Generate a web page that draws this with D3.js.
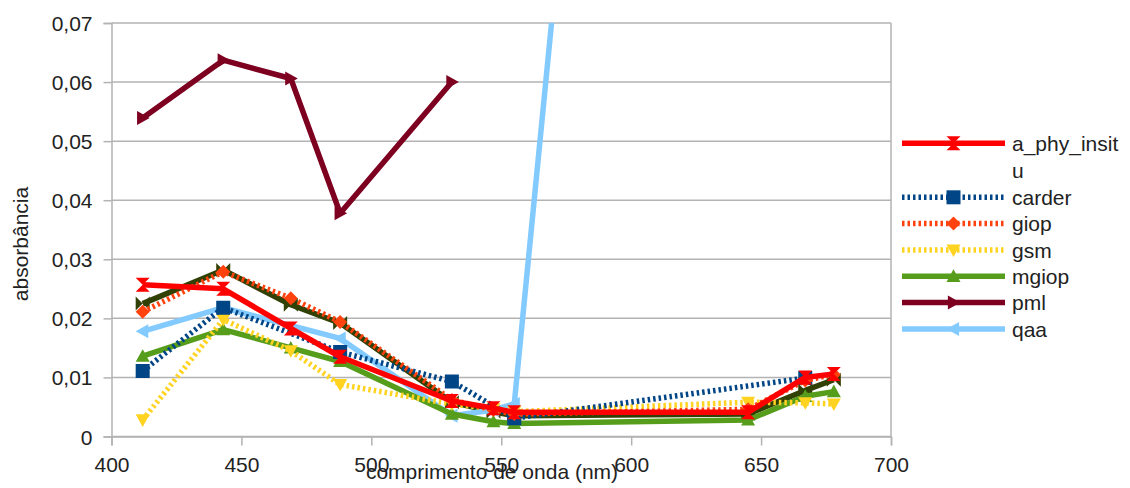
<!DOCTYPE html>
<html><head><meta charset="utf-8">
<script src="https://cdn.jsdelivr.net/npm/d3@7"></script>
<style>
html,body{margin:0;padding:0;background:#fff;}
text{font-family:"Liberation Sans",Arial,sans-serif;fill:#222;}
</style></head>
<body><svg id="c" width="1130" height="488"></svg>
<script>
const wavelengths = [412, 443, 469, 488, 531, 547, 555, 645, 667, 678];
const a_phy_insitu = [0.0257, 0.0250, 0.0183, 0.0135, 0.0060, 0.0048, 0.0041, 0.0041, 0.0100, 0.0106];
const carder = [0.0111, 0.0218, null, 0.0143, 0.0093, null, 0.0031, null, 0.0099, null];
const giop = [0.0211, 0.0279, 0.0234, 0.0194, 0.0062, 0.0045, 0.0038, 0.0046, 0.0095, 0.0105];
const gsm = [0.0028, 0.0198, 0.0145, 0.0088, 0.0055, 0.0047, 0.0042, 0.0058, 0.0057, 0.0055];
const mgiop = [0.0136, 0.0181, 0.0150, 0.0127, 0.0038, 0.0025, 0.0022, 0.0028, 0.0068, 0.0076];
const pml = [0.0539, 0.0637, 0.0606, 0.0378, 0.0600, null, null, null, null, null];
const qaa = [0.0178, 0.0218, null, 0.0166, 0.0035, 0.0045, 0.0055, 0.41, null, null];
const serie8 = [0.0225, 0.0282, 0.0223, 0.0192, 0.0058, 0.0042, 0.0035, 0.0038, 0.0078, 0.0096];
const legendNames = ["a_phy_insitu", "carder", "giop", "gsm", "mgiop", "pml", "qaa"];
const xTicks = [400, 450, 500, 550, 600, 650, 700];
const yTicks = [0, 0.01, 0.02, 0.03, 0.04, 0.05, 0.06, 0.07];

const S = {
  a_phy_insitu: {vals: a_phy_insitu, color: "#ff0000", dash: null, marker: "hourglass"},
  carder: {vals: carder, color: "#004586", dash: "2.5,3", marker: "square"},
  giop: {vals: giop, color: "#ff420e", dash: "2.5,3", marker: "diamond"},
  gsm: {vals: gsm, color: "#ffd320", dash: "2.5,3", marker: "down"},
  mgiop: {vals: mgiop, color: "#579d1c", dash: null, marker: "up"},
  pml: {vals: pml, color: "#7e0021", dash: null, marker: "right"},
  qaa: {vals: qaa, color: "#83caff", dash: null, marker: "left"},
  serie8: {vals: serie8, color: "#314004", dash: null, marker: "bowtie"}
};
const drawOrder = ["serie8", "qaa", "mgiop", "gsm", "carder", "giop", "pml", "a_phy_insitu"];

const L = 111.5, R = 891, T = 23, B = 436.5;
const x = d3.scaleLinear().domain([400, 700]).range([L, R]);
const y = d3.scaleLinear().domain([0, 0.07]).range([B, T]);
const svg = d3.select("#c");

function markerPath(type, s) {
  switch (type) {
    case "square": return `M${-s},${-s}H${s}V${s}H${-s}Z`;
    case "diamond": return `M0,${-s}L${s},0L0,${s}L${-s},0Z`;
    case "down": return `M${-s},${-s*0.8}H${s}L0,${s}Z`;
    case "up": return `M${-s},${s*0.8}H${s}L0,${-s}Z`;
    case "right": return `M${-s*0.8},${-s}V${s}L${s},0Z`;
    case "left": return `M${s*0.8},${-s}V${s}L${-s},0Z`;
    case "hourglass": return `M${-s},${-s}H${s}L${-s},${s}H${s}Z`;
    case "bowtie": return `M${-s},${-s}V${s}L${s},${-s}V${s}Z`;
  }
}

// grid
svg.append("g").selectAll("line").data(yTicks).join("line")
  .attr("x1", L).attr("x2", R).attr("y1", d => y(d)).attr("y2", d => y(d))
  .attr("stroke", "#b3b3b3").attr("stroke-width", 1.5);
// right border
svg.append("line").attr("x1", R).attr("x2", R).attr("y1", T).attr("y2", B)
  .attr("stroke", "#b3b3b3").attr("stroke-width", 1.5);

// axes
const fmt = d => d === 0 ? "0" : d3.format(".2f")(d).replace(".", ",");
const yAxis = svg.append("g").attr("transform", `translate(${L},0)`)
  .call(d3.axisLeft(y).tickValues(yTicks).tickFormat(fmt).tickSize(8).tickPadding(11));
const xAxis = svg.append("g").attr("transform", `translate(0,${B})`)
  .call(d3.axisBottom(x).tickValues(xTicks).tickFormat(d3.format("d")).tickSize(9).tickPadding(12));
[yAxis, xAxis].forEach(g => {
  g.select(".domain").attr("stroke", "#b3b3b3").attr("stroke-width", 1.5);
  g.selectAll(".tick line").attr("stroke", "#b3b3b3").attr("stroke-width", 1.5);
  g.selectAll("text").attr("font-size", 21).attr("fill", "#222")
    .style("font-family", '"Liberation Sans",Arial,sans-serif');
});
yAxis.selectAll(".tick text").attr("dy", "0.36em");

// titles
svg.append("text").attr("transform", "translate(28,244) rotate(-90)")
  .attr("text-anchor", "middle").attr("font-size", 21).text("absorbância");
svg.append("text").attr("x", 492).attr("y", 479)
  .attr("text-anchor", "middle").attr("font-size", 21).text("comprimento de onda (nm)");

// clip
svg.append("clipPath").attr("id", "plotclip").append("rect")
  .attr("x", L).attr("y", T).attr("width", R - L).attr("height", B - T + 8);

const plot = svg.append("g").attr("clip-path", "url(#plotclip)");
const line = d3.line().x(d => x(d[0])).y(d => y(d[1]));
drawOrder.forEach(k => {
  const s = S[k];
  const pts = wavelengths.map((w, i) => [w, s.vals[i]]).filter(d => d[1] != null);
  const g = plot.append("g");
  g.append("path").datum(pts).attr("d", line).attr("fill", "none")
    .attr("stroke", s.color).attr("stroke-width", 5.5)
    .attr("stroke-dasharray", s.dash).attr("stroke-linejoin", "round");
  g.selectAll("path.m").data(pts).join("path").attr("class", "m")
    .attr("transform", d => `translate(${x(d[0])},${y(d[1])})`)
    .attr("d", markerPath(s.marker, 7)).attr("fill", s.color);
});

// legend
const lg = svg.append("g");
const rowsY = [143.3, 197.3, 223.6, 250, 276.3, 302.6, 329];
legendNames.forEach((name, i) => {
  const s = S[name];
  const yy = rowsY[i];
  lg.append("line").attr("x1", 902).attr("x2", 1005).attr("y1", yy).attr("y2", yy)
    .attr("stroke", s.color).attr("stroke-width", 5.5).attr("stroke-dasharray", s.dash);
  lg.append("path").attr("transform", `translate(953.5,${yy})`)
    .attr("d", markerPath(s.marker, 7)).attr("fill", s.color);
  const t = lg.append("text").attr("x", 1012).attr("y", yy + 7.5).attr("font-size", 21);
  if (name === "a_phy_insitu") {
    t.append("tspan").attr("x", 1012).text("a_phy_insit");
    t.append("tspan").attr("x", 1012).attr("dy", 27).text("u");
  } else t.text(name);
});
</script></body></html>
